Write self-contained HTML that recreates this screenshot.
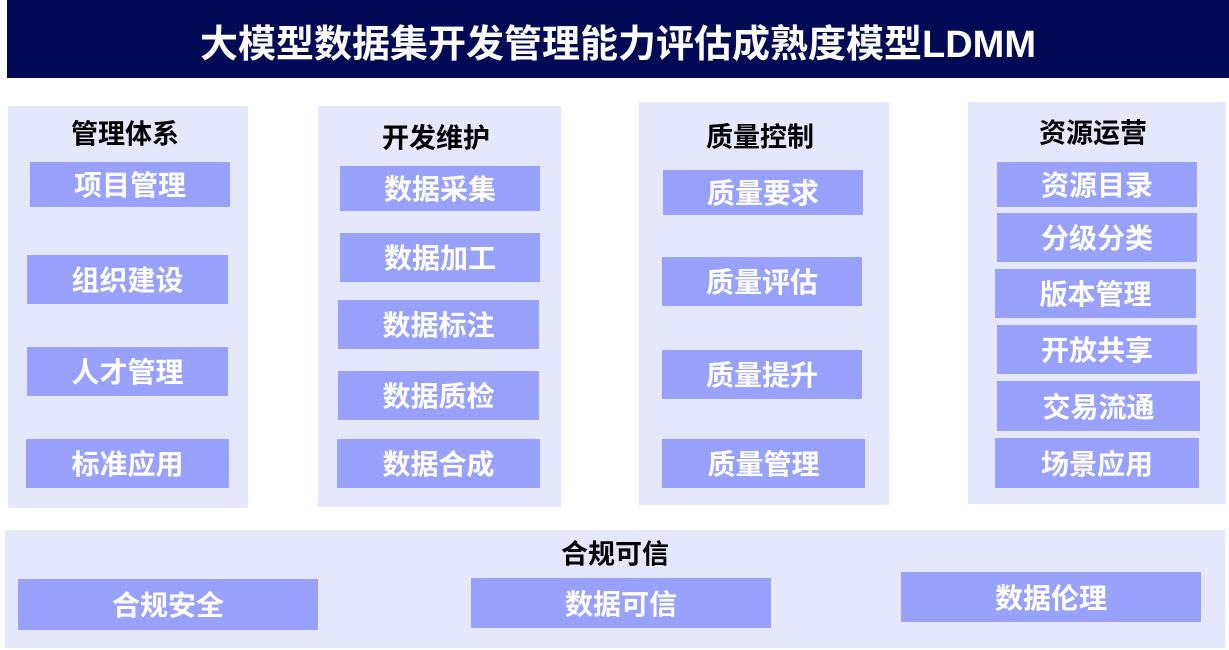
<!DOCTYPE html>
<html><head><meta charset="utf-8"><style>
body{margin:0;width:1229px;height:650px;background:#fff;position:relative;overflow:hidden;font-family:"Liberation Sans","Noto Sans CJK SC",sans-serif;font-weight:bold}
div{position:absolute;box-sizing:border-box}
.t{left:7px;top:0;width:1222px;height:78px;background:#020a55;color:#fff;font-size:38px;display:flex;align-items:center;justify-content:center;padding-top:2px}
.p{background:#e5e7fc}
.b{background:#98a2fe;color:#fff;font-size:28px;display:flex;align-items:center;justify-content:center;line-height:1;padding-top:3px}
.h{font-size:27px;color:#000;transform:translate(-50%,-50%);white-space:nowrap;line-height:1;margin-top:2px}
</style></head><body>
<div class="t">大模型数据集开发管理能力评估成熟度模型LDMM</div>
<div class="p" style="left:8px;top:106px;width:240px;height:402px"></div>
<div class="p" style="left:318px;top:106px;width:243px;height:401px"></div>
<div class="p" style="left:639px;top:102px;width:250px;height:403px"></div>
<div class="p" style="left:968px;top:102px;width:258px;height:402px"></div>
<div class="p" style="left:5px;top:530px;width:1220px;height:118px"></div>
<div class="h" style="left:125px;top:133px">管理体系</div>
<div class="h" style="left:436px;top:137px">开发维护</div>
<div class="h" style="left:760px;top:136px">质量控制</div>
<div class="h" style="left:1093px;top:132px">资源运营</div>
<div class="h" style="left:615px;top:553px">合规可信</div>
<div class="b" style="left:30px;top:162px;width:200px;height:45px">项目管理</div>
<div class="b" style="left:27px;top:255px;width:201px;height:49px">组织建设</div>
<div class="b" style="left:27px;top:347px;width:201px;height:49px">人才管理</div>
<div class="b" style="left:26px;top:439px;width:203px;height:49px">标准应用</div>
<div class="b" style="left:340px;top:166px;width:200px;height:45px">数据采集</div>
<div class="b" style="left:340px;top:233px;width:200px;height:49px">数据加工</div>
<div class="b" style="left:338px;top:300px;width:201px;height:49px">数据标注</div>
<div class="b" style="left:338px;top:371px;width:201px;height:49px">数据质检</div>
<div class="b" style="left:337px;top:439px;width:203px;height:49px">数据合成</div>
<div class="b" style="left:663px;top:170px;width:200px;height:45px">质量要求</div>
<div class="b" style="left:662px;top:257px;width:200px;height:49px">质量评估</div>
<div class="b" style="left:662px;top:350px;width:200px;height:49px">质量提升</div>
<div class="b" style="left:662px;top:439px;width:203px;height:49px">质量管理</div>
<div class="b" style="left:997px;top:162px;width:200px;height:45px">资源目录</div>
<div class="b" style="left:997px;top:213px;width:200px;height:49px">分级分类</div>
<div class="b" style="left:995px;top:269px;width:201px;height:49px">版本管理</div>
<div class="b" style="left:997px;top:325px;width:200px;height:49px">开放共享</div>
<div class="b" style="left:997px;top:381px;width:203px;height:50px">交易流通</div>
<div class="b" style="left:995px;top:438px;width:204px;height:50px">场景应用</div>
<div class="b" style="left:18px;top:579px;width:300px;height:51px">合规安全</div>
<div class="b" style="left:471px;top:578px;width:300px;height:50px">数据可信</div>
<div class="b" style="left:901px;top:572px;width:300px;height:50px">数据伦理</div>
</body></html>
